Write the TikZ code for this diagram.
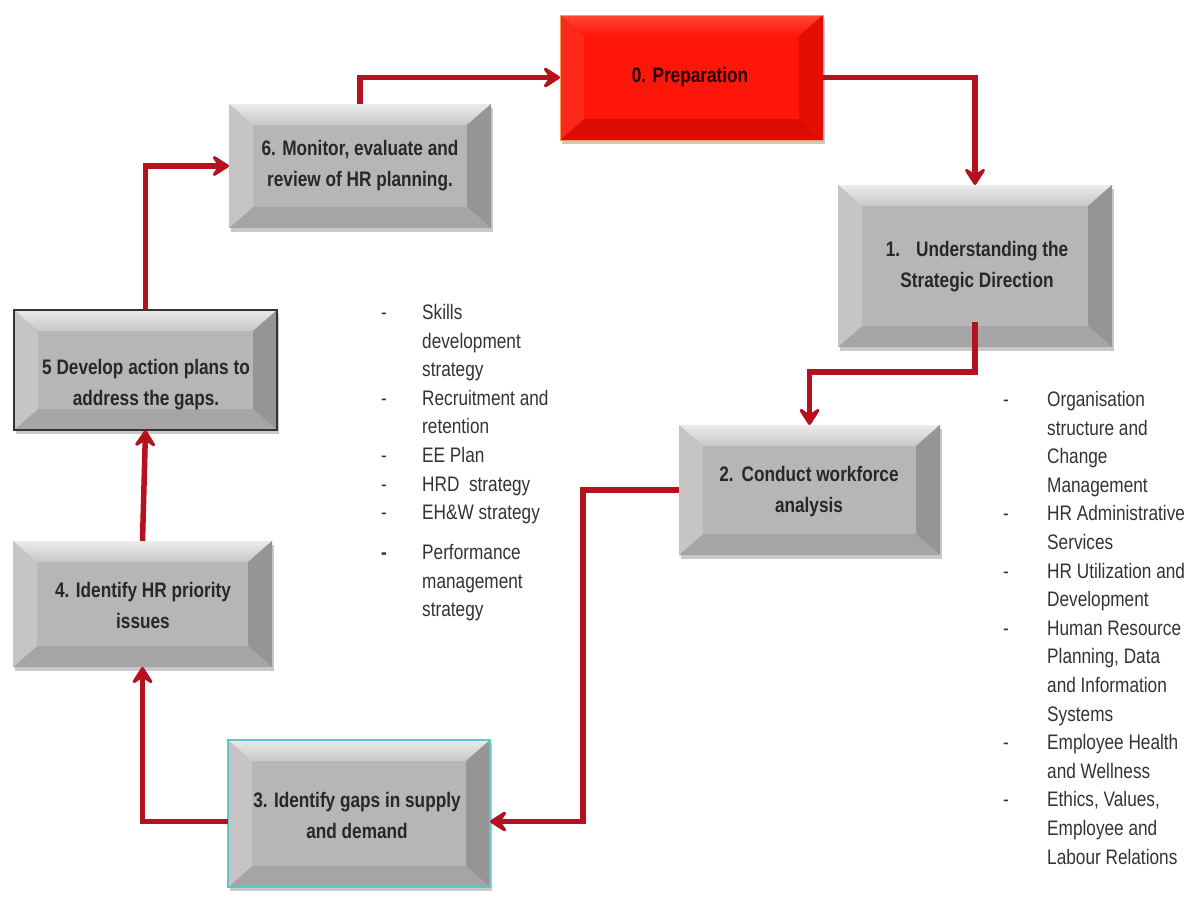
\documentclass[tikz,border=0pt]{standalone}
\usepackage{fontspec}
\setmainfont{Liberation Sans}
\newfontfamily\narrowfont[FakeStretch=0.82]{Liberation Sans}
\usetikzlibrary{arrows.meta,shadows,calc}

\definecolor{arrowred}{RGB}{180,18,30}
\definecolor{facegray}{RGB}{183,181,181}
\definecolor{toplight}{RGB}{236,235,235}
\definecolor{topdark}{RGB}{200,198,198}
\definecolor{leftgray}{RGB}{198,196,196}
\definecolor{rightgray}{RGB}{150,148,148}
\definecolor{bottomgray}{RGB}{166,164,164}
\definecolor{facered}{RGB}{255,22,10}
\definecolor{topred}{RGB}{255,70,50}
\definecolor{leftred}{RGB}{252,40,25}
\definecolor{rightred}{RGB}{228,14,4}
\definecolor{bottomred}{RGB}{220,12,2}
\definecolor{edgeorange}{RGB}{240,160,90}
\definecolor{edgecyan}{RGB}{90,200,205}
\definecolor{labelgray}{RGB}{40,40,40}

% four bevel facets inside the current node outline
\newcommand\bevelfacets[5]{%
  \coordinate (pnw) at (path picture bounding box.north west);
  \coordinate (pne) at (path picture bounding box.north east);
  \coordinate (psw) at (path picture bounding box.south west);
  \coordinate (pse) at (path picture bounding box.south east);
  \coordinate (inw) at ([xshift=24pt,yshift=-21pt]pnw);
  \coordinate (ine) at ([xshift=-24pt,yshift=-21pt]pne);
  \coordinate (isw) at ([xshift=24pt,yshift=21pt]psw);
  \coordinate (ise) at ([xshift=-24pt,yshift=21pt]pse);
  \fill[top color=#1, bottom color=#2] (pnw) -- (pne) -- (ine) -- (inw) -- cycle;
  \fill[#3] (pne) -- (pse) -- (ise) -- (ine) -- cycle;
  \fill[#4] (pse) -- (psw) -- (isw) -- (ise) -- cycle;
  \fill[#5] (psw) -- (pnw) -- (inw) -- (isw) -- cycle;
}

\tikzset{
  plate/.style={rectangle, inner sep=0pt, outer sep=0pt,
    drop shadow={shadow xshift=2pt, shadow yshift=-4pt, opacity=0.3, fill=black!70}},
  graybox/.style={plate, fill=facegray,
    path picture={\bevelfacets{toplight}{topdark}{rightgray}{bottomgray}{leftgray}}},
  redbox/.style={plate, fill=facered, draw=edgeorange, line width=1pt,
    path picture={\bevelfacets{topred}{facered}{rightred}{bottomred}{leftred}}},
  boxlabel/.style={align=center, inner sep=0pt, text=labelgray,
    font=\narrowfont\bfseries\fontsize{21}{31}\selectfont},
  listtext/.style={align=left, inner sep=0pt, anchor=north west, text=black!80,
    font=\narrowfont\fontsize{21}{28.6}\selectfont},
  flow/.style={draw=arrowred, line width=5.5pt,
    -{Stealth[length=21pt,width=27pt,inset=9pt,round,fill=arrowred!85!red]}},
}

\begin{document}
\begin{tikzpicture}[x=1pt,y=-1pt]
\useasboundingbox (0,0) rectangle (1192,903);

% process steps
\node[redbox,  minimum width=263pt, minimum height=125pt] (b0) at (691.5,77.5) {};
\node[graybox, minimum width=262pt, minimum height=124pt] (b6) at (360,166) {};
\node[graybox, minimum width=274pt, minimum height=162pt] (b1) at (975,266) {};
\node[graybox, minimum width=263pt, minimum height=120pt, draw=black!80, line width=1.5pt] (b5) at (145.5,370) {};
\node[graybox, minimum width=261pt, minimum height=130pt] (b2) at (809.5,490) {};
\node[graybox, minimum width=259pt, minimum height=126pt] (b4) at (142.5,604) {};
\node[graybox, minimum width=262pt, minimum height=147pt, draw=edgecyan, line width=2pt] (b3) at (359,813.5) {};

% step labels
\node[boxlabel, text=black!85!red] (b0t) at (690,77) {0. Preparation};
\node[boxlabel] (b6t) at (360,166) {6. Monitor, evaluate and\\review of HR planning.};
\node[boxlabel] (b1t) at (977,267) {1.\hspace{16pt}Understanding the\\Strategic Direction};
\node[boxlabel] (b5t) at (146,385) {5 Develop action plans to\\address the gaps.};
\node[boxlabel] (b2t) at (809,492) {2.\hspace{8pt}Conduct workforce\\analysis};
\node[boxlabel] (b4t) at (143,605) {4. Identify HR priority\\issues};
\node[boxlabel] (b3t) at (357,815) {3. Identify gaps in supply\\and demand};

% cycle connectors
\coordinate (t12) at (975,372);
\coordinate (t23) at (583,821.5);
\draw[flow] (b6.north) |- (b0.west);
\draw[flow] (b0.east) -| (b1.north);
\draw[flow] ([yshift=25pt]b1.south) -- (t12) -| (b2.north);
\draw[flow] (b2.west) -| (t23) -- ([yshift=-8pt]b3.east);
\draw[flow] ([yshift=-8pt]b3.west) -| (b4.south);
\draw[flow] (b4.north) -- (b5.south);
\draw[flow] (b5.north) |- (b6.west);

% strategy list
\node[listtext] (ldash) at (381,304) {\vphantom{Sk}-\\\mbox{}\\\mbox{}\\-\\\mbox{}\\-\\-\\-\\[11.4pt]\textbf{-}};
\node[listtext] (ltext) at (422,304) {Skills\\development\\strategy\\Recruitment and\\retention\\EE Plan\\HRD\ \ strategy\\EH\&W strategy\\[11.4pt]Performance\\management\\strategy};

% support functions list
\node[listtext] (rdash) at (1003,391) {\vphantom{Ok}-\\\mbox{}\\\mbox{}\\\mbox{}\\-\\\mbox{}\\-\\\mbox{}\\-\\\mbox{}\\\mbox{}\\\mbox{}\\-\\\mbox{}\\-};
\node[listtext] (rtext) at (1047,391) {Organisation\\structure and\\Change\\Management\\HR Administrative\\Services\\HR Utilization and\\Development\\Human Resource\\Planning, Data\\and Information\\Systems\\Employee Health\\and Wellness\\Ethics, Values,\\Employee and\\Labour Relations};
\end{tikzpicture}
\end{document}
